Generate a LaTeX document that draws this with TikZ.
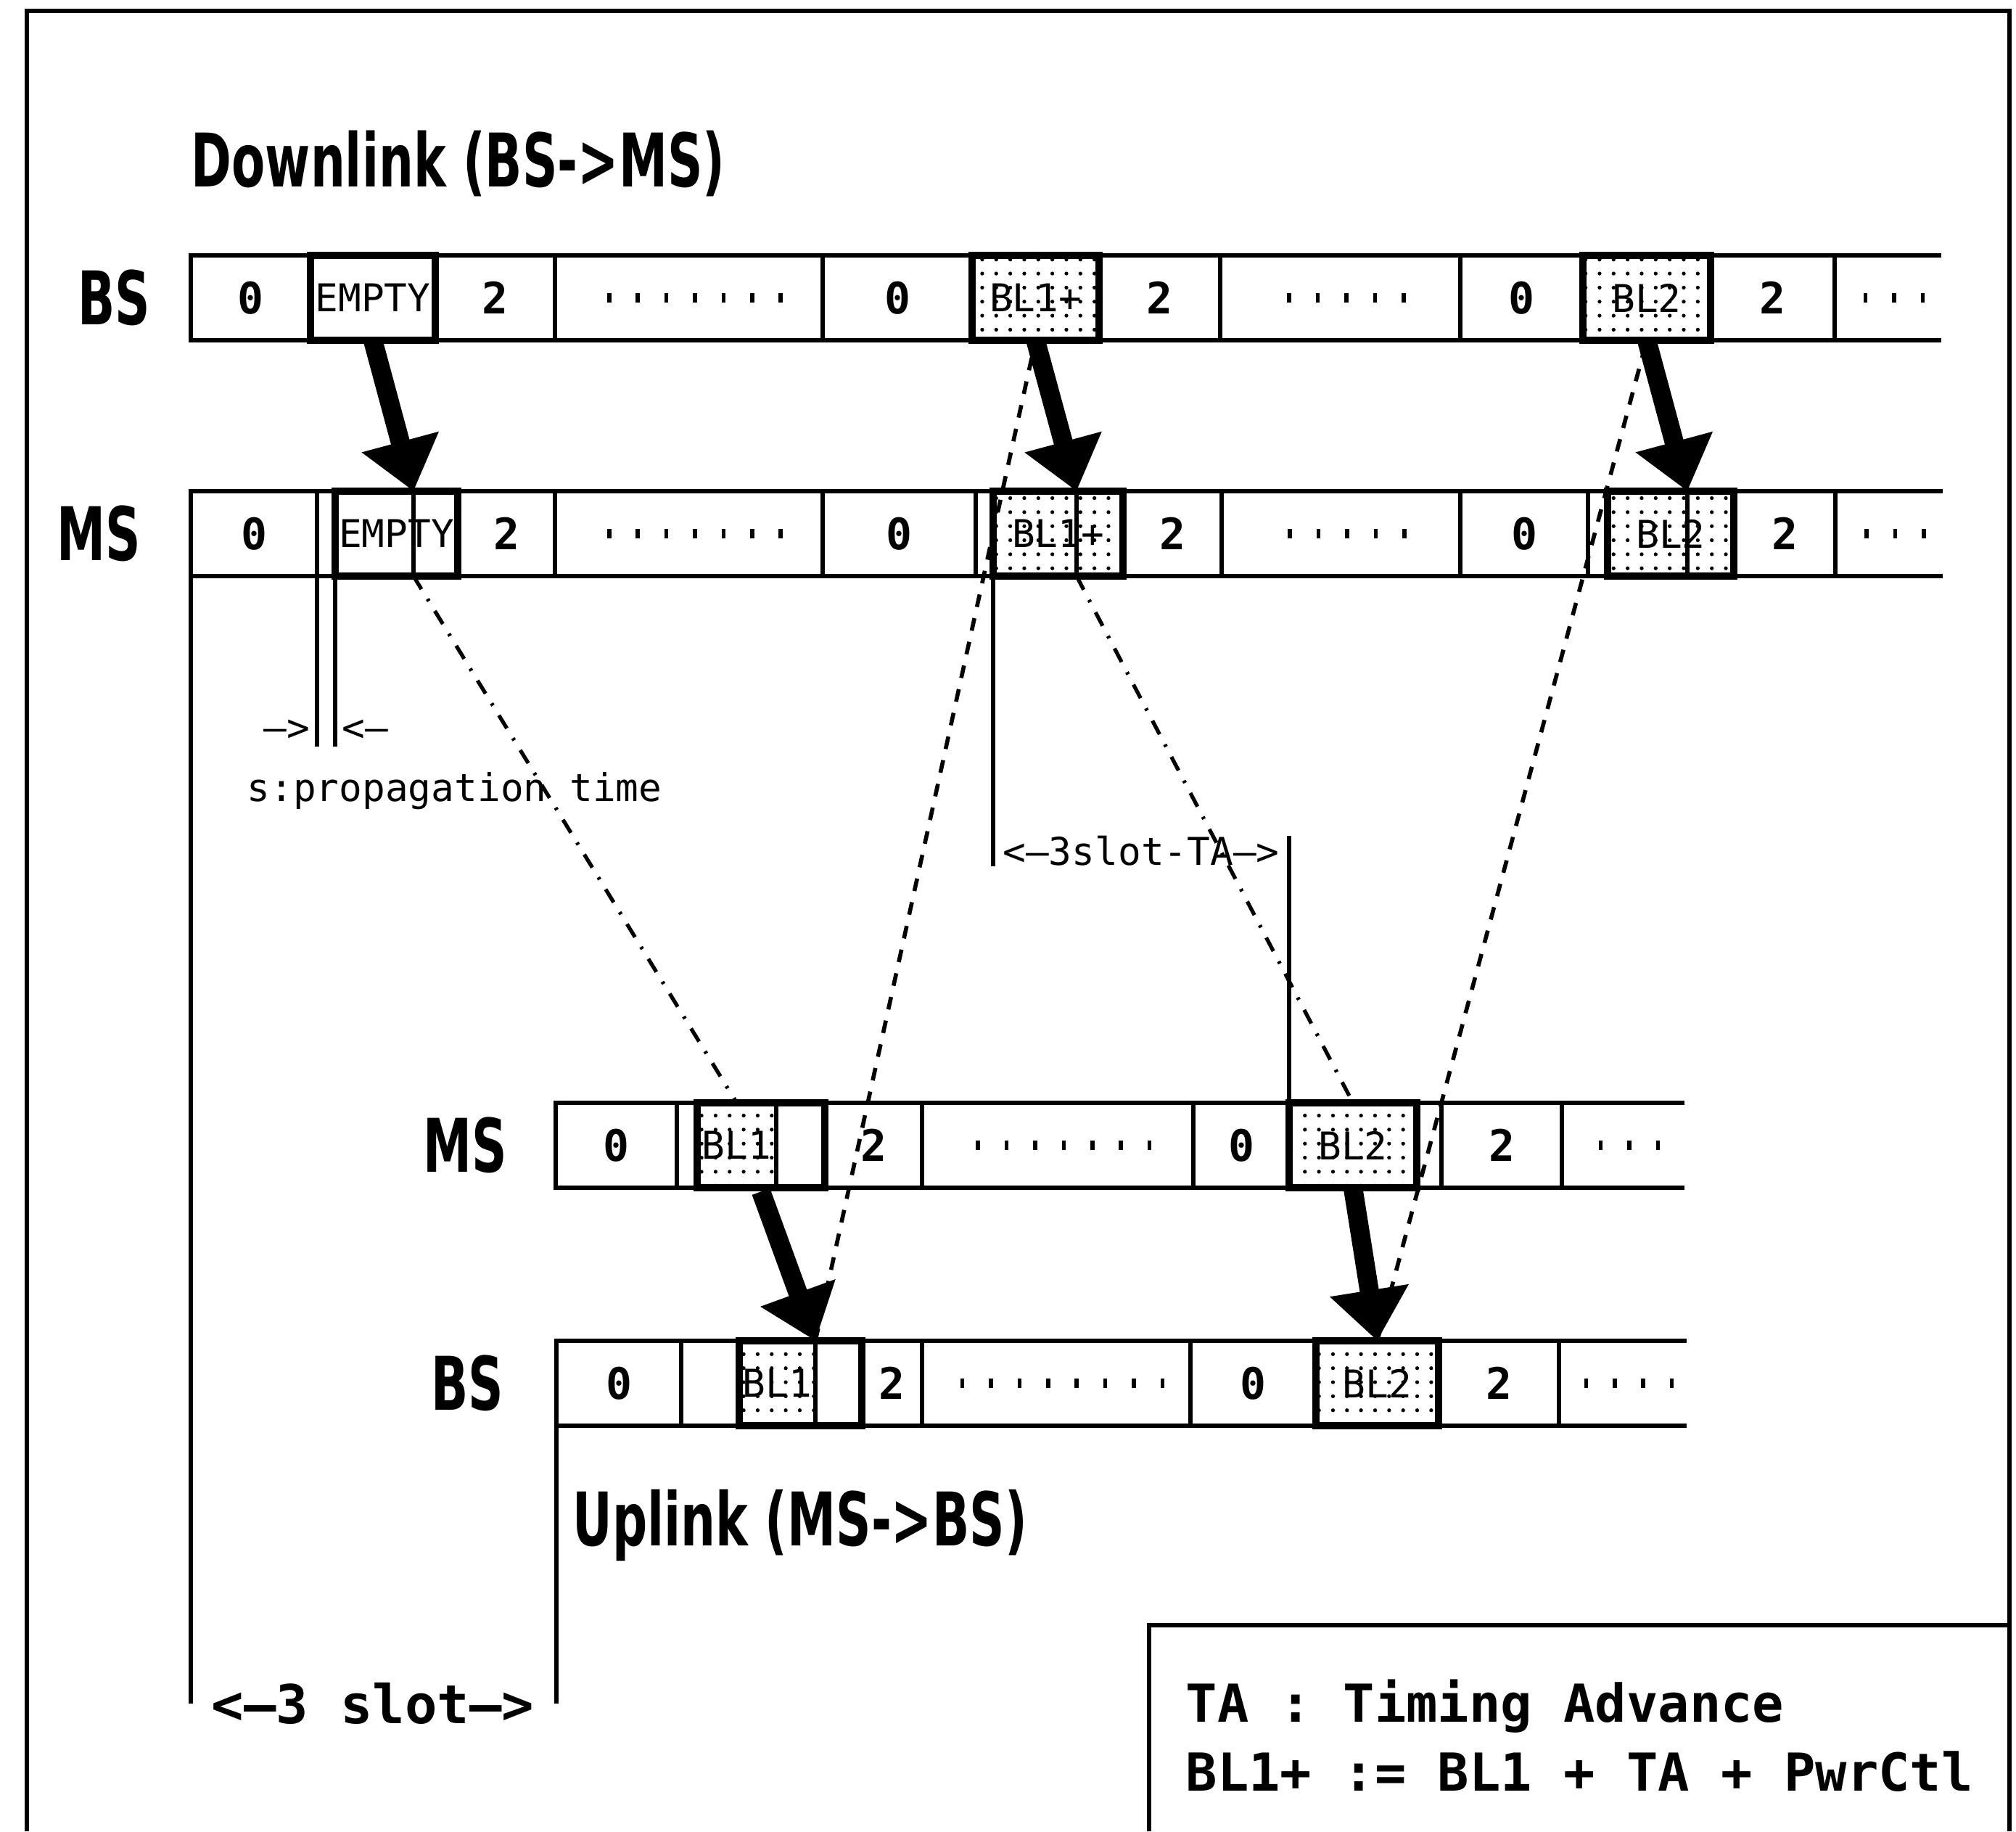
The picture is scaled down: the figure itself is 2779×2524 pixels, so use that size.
\documentclass[tikz,border=0pt]{standalone}
\usepackage{fontspec}
\newfontfamily\headfam[FakeStretch=0.66]{DejaVu Sans}
\newfontfamily\monofam{DejaVu Sans Mono}
\usetikzlibrary{arrows.meta, positioning, patterns.meta, fit}
\newcommand\dotrun[1]{\foreach\j in {1,...,#1}{\hspace{4.8pt}\rule{1.6pt}{3.8pt}\hspace{4.8pt}}}

\begin{document}
\begin{tikzpicture}[
    x=0.01cm, y=-0.01cm,
    headtext/.style={font=\headfam\bfseries\fontsize{29}{30}\selectfont, inner sep=0pt},
    monotext/.style={font=\monofam\fontsize{15}{15}\selectfont, inner sep=0pt},
    keytext/.style={font=\monofam\bfseries\fontsize{20.5}{27}\selectfont, align=left, inner sep=0pt},
    slot/.style={draw, line width=1.5pt, anchor=north west, inner sep=0pt, outer sep=0pt,
        minimum height=1.17cm, font=\monofam\bfseries\fontsize{17}{17}\selectfont},
    burst/.style={slot, line width=3pt, font=\monofam\fontsize{15}{15}\selectfont},
    dburst/.style={burst, pattern={Dots[distance=5.5pt, radius=0.75pt]}},
    dtag/.style={slot, font=\monofam\fontsize{15}{15}\selectfont, pattern={Dots[distance=5.5pt, radius=0.75pt]}},
    opencell/.style={slot, draw=none},
    burstframe/.style={draw, line width=3pt, inner sep=0pt},
    guide/.style={line width=1.5pt},
    outline/.style={line width=1.5pt},
    fall/.style={line width=1.5pt, dash pattern=on 6pt off 4.5pt on 1pt off 4.5pt},
    rise/.style={line width=1.6pt, dash pattern=on 5pt off 4.5pt},
    bigarrow/.style={line width=7.5pt, -{Triangle[length=20pt, width=30pt]}}
]
\path[use as bounding box, fill=white] (0,0) rectangle (2779,2524);
\draw[outline] (37,2524) -- (37,15) -- (2770,15) -- (2770,2524);

% downlink rows
\foreach \xa/\xb/\lab/\sty [count=\i] in {263/428/0/slot, 428/600/EMPTY/burst, 600/765/2/slot,
    765/1134/\dotrun{7}/slot, 1134/1340/0/slot, 1340/1515/BL1+/dburst, 1515/1682/2/slot,
    1682/2013/\dotrun{5}/slot, 2013/2182/0/slot, 2182/2358/BL2/dburst, 2358/2529/2/slot,
    2529/2676/\dotrun{3}/opencell}
  \node[\sty, minimum width={(\xb-\xa)*0.01cm}] (a\i) at (\xa,352) {\lab};
\foreach \xa/\xb/\lab/\sty [count=\i] in {263/437/0/slot, 437/462/{}/slot, 462/631/EMPTY/burst,
    631/765/2/slot, 765/1134/\dotrun{7}/slot, 1134/1345/0/slot, 1345/1369/{}/slot,
    1369/1548/BL1+/dburst, 1548/1684/2/slot, 1684/2013/\dotrun{5}/slot, 2013/2189/0/slot,
    2189/2216/{}/slot, 2216/2390/BL2/dburst, 2390/2530/2/slot, 2530/2678/\dotrun{3}/opencell}
  \node[\sty, minimum width={(\xb-\xa)*0.01cm}] (b\i) at (\xa,677) {\lab};

% uplink rows
\foreach \xa/\xb/\lab/\sty [count=\i] in {766/933/0/slot, 933/961/{}/slot, 961/1070/BL1/dtag,
    1070/1137/{}/slot, 1137/1271/2/slot, 1271/1645/\dotrun{7}/slot, 1645/1777/0/slot,
    1777/1953/BL2/dburst, 1953/1987/{}/slot, 1987/2153/2/slot, 2153/2322/\dotrun{3}/opencell}
  \node[\sty, minimum width={(\xb-\xa)*0.01cm}] (c\i) at (\xa,1520) {\lab};
\foreach \xa/\xb/\lab/\sty [count=\i] in {767/939/0/slot, 939/1019/{}/slot, 1019/1124/BL1/dtag,
    1124/1188/{}/slot, 1188/1271/2/slot, 1271/1641/\dotrun{8}/slot, 1641/1814/0/slot,
    1814/1983/BL2/dburst, 1983/2149/2/slot, 2149/2325/\dotrun{4}/opencell}
  \node[\sty, minimum width={(\xb-\xa)*0.01cm}] (d\i) at (\xa,1848) {\lab};

\foreach \n in {a12,b15,c11,d10}
  \draw[guide] (\n.north west) -- (\n.north east) (\n.south west) -- (\n.south east);
\node[burstframe, fit=(c3)(c4)] (c34) {};
\node[burstframe, fit=(d3)(d4)] (d34) {};

% titles and row names
\node[headtext, anchor=base west] (downtitle) at (263,257) {Downlink (BS->MS)};
\node[headtext, anchor=base west] (uptitle) at (789,2130) {Uplink (MS->BS)};
\node[headtext, left=0.55cm of a1] (bsdown) {BS};
\node[headtext, left=0.68cm of b1] (msdown) {MS};
\node[headtext, left=0.66cm of c1] (msup) {MS};
\node[headtext, left=0.72cm of d1] (bsup) {BS};

% arrival marks in the MS downlink
\coordinate (hit1) at (570,677);
\coordinate (hit2) at (1484,677);
\coordinate (hit3) at (2326,677);
\foreach \h in {hit1,hit2,hit3}
  \draw[guide] (\h) -- (\h |- b1.south);

\draw[bigarrow] (a2.south) -- (hit1);
\draw[bigarrow] (a6.south) -- (hit2);
\draw[bigarrow] (a10.south) -- (hit3);
\draw[bigarrow] (c34.south) -- (d3.north east);
\draw[bigarrow] (c8.south) -- (d8.north);

\draw[fall] (hit1 |- b1.south) -- (c3.north);
\draw[fall] (hit2 |- b1.south) -- (c8.north);
\draw[rise] (d3.north east) -- (a6.south);
\draw[rise] (d8.north) -- (a10.south);

% propagation time
\node[monotext, anchor=east] (goin) at (428,1007) {—>};
\node[monotext, anchor=west] (goout) at (471,1007) {<—};
\node[monotext, anchor=west] (prop) at (340,1090) {s:propagation time};
\draw[guide] (b2.south west) -- ++(0,235);
\draw[guide] (b2.south east) -- ++(0,235);

% 3 slot minus timing advance
\node[monotext] (ta) at (1573,1173) {<—3slot-TA—>};
\draw[guide] (b8.south west) -- (b8.south west |- ta.south);
\draw[guide] (c8.north west) -- (c8.north west |- ta.north);

\node[font=\monofam\bfseries\fontsize{21}{21}\selectfont, inner sep=0pt] (threeslot) at (514,2348) {<—3 slot—>};
\draw[guide] (b1.south west) -- (b1.south west |- threeslot.east);
\draw[guide] (d1.south west) -- (d1.south west |- threeslot.east);

% key
\draw[outline] (1584,2524) |- (2770,2240);
\node[keytext, anchor=west] (key) at (1634,2392) {TA : Timing Advance\\BL1+ := BL1 + TA + PwrCtl};
\end{tikzpicture}
\end{document}
